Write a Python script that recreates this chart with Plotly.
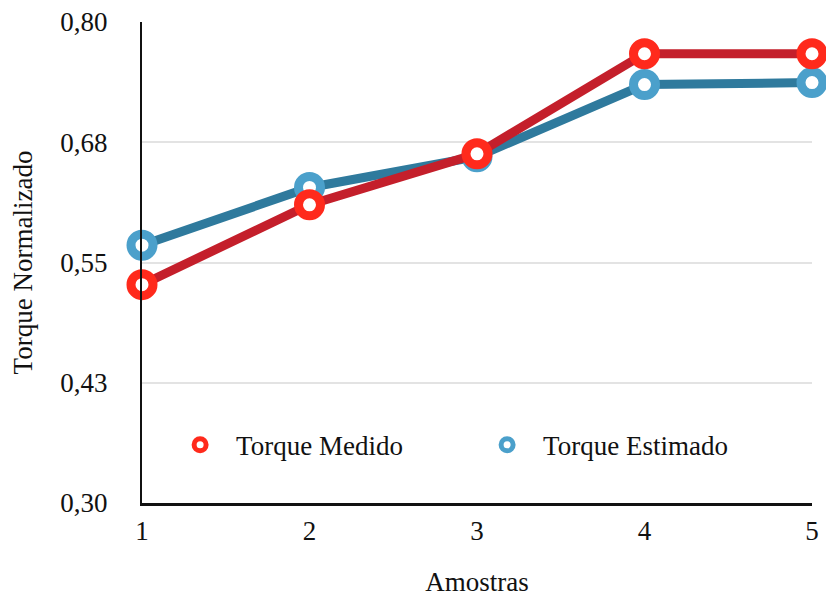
import plotly.graph_objects as go

# Samples and normalized torque values
amostras = [1, 2, 3, 4, 5]
torque_medido = [0.527, 0.610, 0.663, 0.767, 0.767]
torque_estimado = [0.568, 0.628, 0.660, 0.735, 0.737]

y_tickvals = [0.30, 0.425, 0.55, 0.675, 0.80]
y_ticktext = ["0,30", "0,43", "0,55", "0,68", "0,80"]
x_tickvals = [1, 2, 3, 4, 5]
x_ticktext = ["1", "2", "3", "4", "5"]

RED_LINE = "#C41F2B"
RED_MARK = "#FF2A1C"
BLUE_LINE = "#2F7A9D"
BLUE_MARK = "#4BA0CB"
TXT = dict(family="Liberation Serif", size=27, color="#111111")

fig = go.Figure()

# Data traces (estimated first so the measured series sits on top)
fig.add_trace(go.Scatter(
    x=amostras, y=torque_estimado, mode="lines+markers", name="Torque Estimado",
    line=dict(color=BLUE_LINE, width=9),
    marker=dict(symbol="circle", size=22, color="white",
                line=dict(color=BLUE_MARK, width=9)),
    cliponaxis=False, showlegend=False,
))
fig.add_trace(go.Scatter(
    x=amostras, y=torque_medido, mode="lines+markers", name="Torque Medido",
    line=dict(color=RED_LINE, width=9),
    marker=dict(symbol="circle", size=22, color="white",
                line=dict(color=RED_MARK, width=9)),
    cliponaxis=False, showlegend=False,
))

# Legend entries (marker only)
for name, col in [("Torque Medido", RED_MARK), ("Torque Estimado", BLUE_MARK)]:
    fig.add_trace(go.Scatter(
        x=[None], y=[None], mode="markers", name=name,
        marker=dict(symbol="circle", size=12, color="white",
                    line=dict(color=col, width=5)),
    ))

fig.update_layout(
    width=826, height=597,
    margin=dict(l=142, r=14, t=22, b=94, autoexpand=False),
    paper_bgcolor="white", plot_bgcolor="white",
    font=TXT,
    showlegend=True,
    legend=dict(
        orientation="h", x=0.033, y=0.12, xanchor="left", yanchor="middle",
        font=TXT, bgcolor="rgba(0,0,0,0)", itemwidth=62, entrywidth=230,
    ),
    xaxis=dict(
        range=[1, 5], tickvals=x_tickvals, ticktext=x_ticktext, tickfont=TXT,
        showgrid=False, zeroline=False, automargin=False,
        showline=True, linecolor="#111111", linewidth=2.5,
        ticks="", ticklabelstandoff=2,
        title=dict(text="Amostras", standoff=28, font=TXT),
    ),
    yaxis=dict(
        range=[0.30, 0.80], tickvals=y_tickvals, ticktext=y_ticktext, tickfont=TXT,
        showgrid=True, gridcolor="#E3E3E3", gridwidth=1.5, zeroline=False,
        automargin=False,
        showline=True, linecolor="#111111", linewidth=2,
        ticks="", ticklabelstandoff=27,
        title=dict(text="Torque Normalizado", standoff=20, font=TXT),
    ),
)

fig.write_html("out.html")
